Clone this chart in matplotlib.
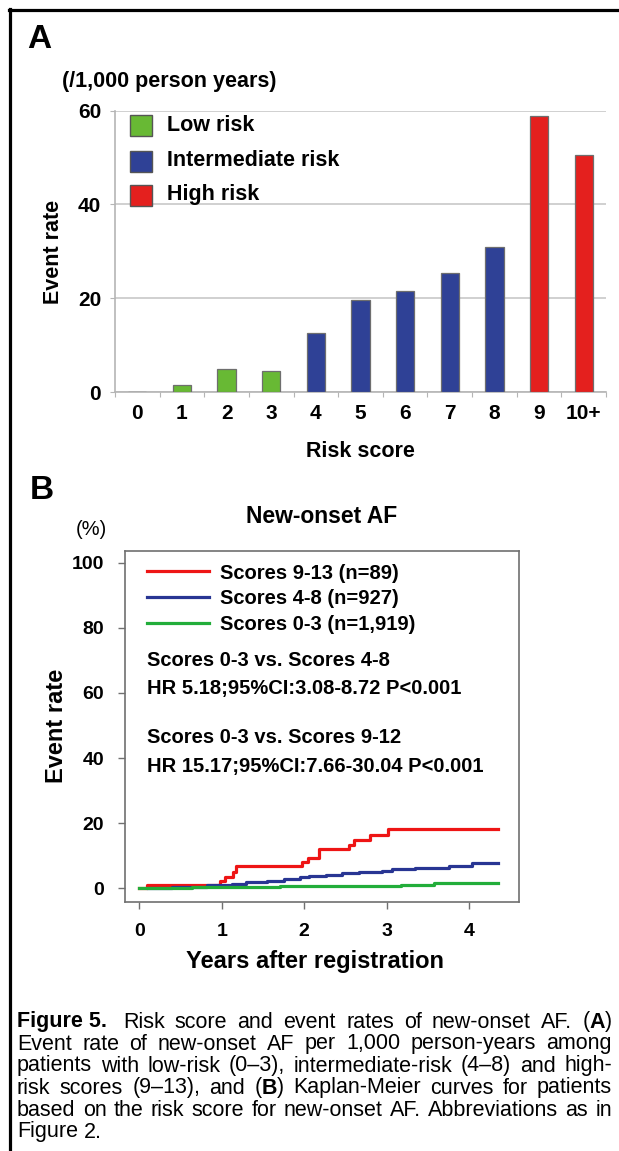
import matplotlib
matplotlib.use("Agg")
import matplotlib.pyplot as plt
from matplotlib.patches import Rectangle
from matplotlib.lines import Line2D
from matplotlib import font_manager

W, H = 619, 1151
plt.rcParams["font.family"] = ["Liberation Sans", "DejaVu Sans"]

# Panel A: event rate (/1,000 person years) by risk score
risk_scores = ["0", "1", "2", "3", "4", "5", "6", "7", "8", "9", "10+"]
event_rate = [0, 1.5, 5.0, 4.5, 12.7, 19.7, 21.5, 25.5, 30.9, 58.8, 50.5]
risk_group = ["Low", "Low", "Low", "Low", "Intermediate", "Intermediate",
              "Intermediate", "Intermediate", "Intermediate", "High", "High"]
group_names = ["Low", "Intermediate", "High"]
group_labels = ["Low risk", "Intermediate risk", "High risk"]
group_colors = {"Low": "#68b934", "Intermediate": "#2f4196", "High": "#e4201e"}

# Panel B: Kaplan-Meier cumulative event rate (%), step points (years, %)
red_t = [0, 0.09, 0.98, 1.04, 1.14, 1.17, 1.97, 2.05, 2.18, 2.55, 2.61, 2.80, 3.02, 4.35]
red_y = [0, 1.1, 2.3, 3.5, 5.0, 6.9, 8.1, 9.4, 12.1, 13.4, 15.0, 16.5, 18.3, 18.3]
blue_t = [0.10, 0.40, 0.82, 1.12, 1.30, 1.55, 1.75, 1.95, 2.06, 2.26, 2.46, 2.67,
          2.95, 3.07, 3.35, 3.76, 4.04, 4.35]
blue_y = [0, 0.4, 1.0, 1.4, 1.8, 2.3, 2.8, 3.4, 3.8, 4.1, 4.6, 5.0,
          5.4, 5.8, 6.4, 6.9, 7.7, 7.7]
green_t = [0, 0.64, 1.71, 2.69, 3.17, 3.58, 4.35]
green_y = [0, 0.3, 0.6, 0.8, 1.1, 1.5, 1.5]
km_labels = ["Scores 9-13 (n=89)", "Scores 4-8 (n=927)", "Scores 0-3 (n=1,919)"]
km_colors = ["#ee1515", "#283593", "#22ad3a"]

fig = plt.figure(figsize=(W / 100, H / 100), dpi=100)


def box(x0, y0, x1, y1):
    return [x0 / W, 1 - y1 / H, (x1 - x0) / W, (y1 - y0) / H]


def fx(px):
    return px / W


def fy(py):
    return 1 - py / H


# outer frame (top and left)
fig.add_artist(Line2D([fx(9), 1.0], [fy(10), fy(10)], color="black", lw=2.3))
fig.add_artist(Line2D([fx(10), fx(10)], [0, fy(9)], color="black", lw=2.3))

# ---------------- Panel A ----------------
axA = fig.add_axes(box(115, 110.6, 606, 392.3))
xs = list(range(len(risk_scores)))
axA.bar(xs, event_rate, width=0.41, color=[group_colors[g] for g in risk_group],
        edgecolor="#6e6e6e", linewidth=0.9, zorder=3)
axA.set_xlim(-0.5, 10.5)
axA.set_ylim(0, 60)
axA.set_yticks([0, 20, 40, 60])
axA.yaxis.grid(True, color="#c4c4c4", lw=1.1)
axA.set_axisbelow(True)
for s in ["top", "right"]:
    axA.spines[s].set_visible(False)
for s in ["left", "bottom"]:
    axA.spines[s].set_color("#b5b5b5")
    axA.spines[s].set_linewidth(1.2)
axA.set_xticks([i - 0.5 for i in range(len(risk_scores) + 1)])
axA.tick_params(axis="x", which="major", length=3.5, color="#b5b5b5", labelbottom=False)
axA.set_xticks(xs, risk_scores, minor=True)
axA.tick_params(axis="x", which="minor", length=0, pad=8.5, labelsize=15)
axA.tick_params(axis="y", length=3.5, color="#b5b5b5", pad=6.5, labelsize=15)
for lab in axA.get_xticklabels(minor=True) + axA.get_yticklabels():
    lab.set_fontweight("bold")

axA.set_ylabel("Event rate", fontsize=15.5, fontweight="bold")
axA.yaxis.set_label_coords((54 - 115) / 491, 0.5)
axA.yaxis.label.set_va("center")
axA.set_xlabel("Risk score", fontsize=15.5, fontweight="bold")
axA.xaxis.set_label_coords(0.5, -(451.7 - 392.3) / 281.7)
axA.xaxis.label.set_va("center")

# legend boxes
for k, (g, lab) in enumerate(zip(group_names, group_labels)):
    yc = [0.9457, 0.8211, 0.7004][k]
    axA.add_patch(Rectangle((0.0305, yc - 0.0373), 0.0448, 0.0745, transform=axA.transAxes,
                            facecolor=group_colors[g], edgecolor="#555555", lw=1.0,
                            clip_on=False, zorder=4))
    axA.text(0.1059, yc, lab, transform=axA.transAxes, va="center", ha="left",
             fontsize=15.5, fontweight="bold", zorder=4)

fig.text(fx(27), fy(40), "A", fontsize=24, fontweight="bold", va="center", ha="left")
fig.text(fx(169.5), fy(82), "(/1,000 person years)", fontsize=15.5, fontweight="bold",
         va="center", ha="center")

# ---------------- Panel B ----------------
axB = fig.add_axes(box(125, 551, 519, 901.7))
handles = []
for t, y, c, lab in zip([red_t, blue_t, green_t], [red_y, blue_y, green_y], km_colors, km_labels):
    h, = axB.plot(t, y, drawstyle="steps-post", color=c, lw=2.3, label=lab)
    handles.append(h)
axB.set_xlim(-0.173, 4.606)
axB.set_ylim(-4.1, 103.6)
axB.set_xticks([0, 1, 2, 3, 4])
axB.set_yticks([0, 20, 40, 60, 80, 100])
for s in axB.spines.values():
    s.set_color("#707070")
    s.set_linewidth(1.2)
axB.tick_params(length=5, width=1, color="#707070", labelsize=14, pad=10)
for lab in axB.get_xticklabels() + axB.get_yticklabels():
    lab.set_fontweight("bold")

axB.legend(handles=handles, loc="upper left", bbox_to_anchor=(0.0558, 0.9643),
           frameon=False, handlelength=3.1, handletextpad=0.55, labelspacing=0.33,
           borderpad=0, borderaxespad=0, prop={"size": 14.5, "weight": "bold"})

notes = ["Scores 0-3 vs. Scores 4-8", "HR 5.18;95%CI:3.08-8.72 P<0.001",
         "Scores 0-3 vs. Scores 9-12", "HR 15.17;95%CI:7.66-30.04 P<0.001"]
for txt, yy in zip(notes, [0.689, 0.6085, 0.4688, 0.385]):
    axB.text(0.0551, yy, txt, transform=axB.transAxes, va="center", ha="left",
             fontsize=14.5, fontweight="bold")

axB.set_ylabel("Event rate", fontsize=17, fontweight="bold")
axB.yaxis.set_label_coords((57 - 125) / 394, 0.5)
axB.yaxis.label.set_va("center")
axB.set_xlabel("Years after registration", fontsize=17, fontweight="bold")
axB.xaxis.set_label_coords((315 - 125) / 394, -(961.7 - 901.7) / 350.7)
axB.xaxis.label.set_va("center")

fig.text(fx(30), fy(491), "B", fontsize=24, fontweight="bold", va="center", ha="left")
fig.text(fx(322), fy(517), "New-onset AF", fontsize=16.5, fontweight="bold", va="center", ha="center")
fig.text(fx(91), fy(529), "(%)", fontsize=14.5, va="center", ha="center")

# ---------------- Caption ----------------
installed = {f.name for f in font_manager.fontManager.ttflist}
narrow = ["Liberation Sans Narrow", "Liberation Sans"] if "Liberation Sans Narrow" in installed else ["Liberation Sans"]
renderer = fig.canvas.get_renderer()
CAP = 15.5


def put_word(x, y, word):
    # word pieces between '*' are bold
    parts = word.replace("_", " ").split("*")
    for i, p in enumerate(parts):
        if not p:
            continue
        t = fig.text(fx(x), fy(y), p, fontsize=CAP, va="center", ha="left",
                     fontweight="bold" if i % 2 else "normal")
        x += t.get_window_extent(renderer).width
    return x


def word_width(word):
    parts = word.replace("_", " ").split("*")
    w = 0
    for i, p in enumerate(parts):
        if not p:
            continue
        t = fig.text(0, 0, p, fontsize=CAP, fontweight="bold" if i % 2 else "normal")
        w += t.get_window_extent(renderer).width
        t.remove()
    return w


def caption_line(y, text, x0, x1, justify=True):
    words = text.split(" ")
    widths = [word_width(w) for w in words]
    if justify and len(words) > 1:
        gap = (x1 - x0 - sum(widths)) / (len(words) - 1)
    else:
        gap = word_width("a_b") - word_width("ab")
    x = x0
    for w, ww in zip(words, widths):
        put_word(x, y, w)
        x += ww + gap


cap_x0, cap_x1 = 17, 612
lbl = fig.text(fx(cap_x0), fy(1022), "Figure 5.", fontsize=CAP, fontweight="bold",
               family=narrow, va="center", ha="left")
lbl_end = cap_x0 + lbl.get_window_extent(renderer).width
caption_line(1022, "Risk score and event rates of new-onset AF. (*A*)", lbl_end + 16, cap_x1)
caption_line(1044, "Event rate of new-onset AF per 1,000 person-years among", cap_x0, cap_x1)
caption_line(1066, "patients with low-risk (0\u20133), intermediate-risk (4\u20138) and high-", cap_x0, cap_x1)
caption_line(1088, "risk scores (9\u201313), and (*B*) Kaplan-Meier curves for patients", cap_x0, cap_x1)
caption_line(1110, "based on the risk score for new-onset AF. Abbreviations as in", cap_x0, cap_x1)
caption_line(1132, "Figure 2.", cap_x0, cap_x1, justify=False)

fig.savefig("out.png", dpi=100)
